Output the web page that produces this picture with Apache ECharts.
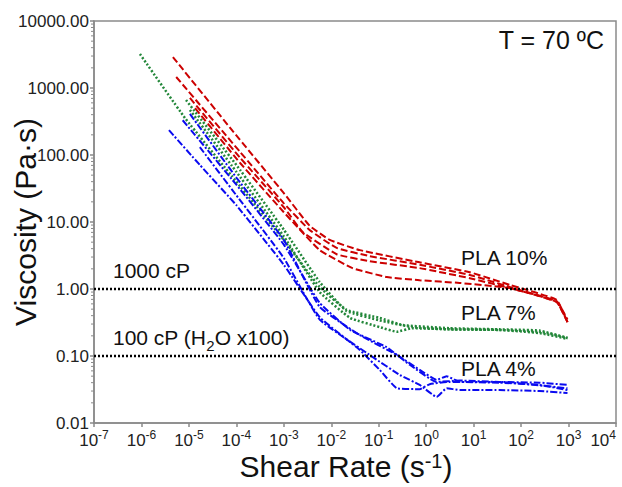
<!DOCTYPE html>
<html>
<head>
<meta charset="utf-8">
<script src="https://cdn.jsdelivr.net/npm/echarts@6/dist/echarts.min.js"></script>
<style>html,body{margin:0;padding:0;background:#fff}#c{width:622px;height:487px}</style>
</head>
<body>
<div id="c"></div>
<script>
// ---- data (shear rate [1/s], viscosity [Pa·s]) ----
const pla10_a = [[4.6e-6,2900],[8.5e-5,225],[1e-3,27],[3.5e-3,8.8],[9.3e-3,5.4],[4e-2,3.8],[0.73,2.5],[8.3,1.78],[58,1.15],[560,0.69],[950,0.32]];
const pla10_b = [[5.4e-6,1460],[1.2e-4,111],[1e-3,19],[3.5e-3,7.6],[1.3e-2,4.1],[6.4e-2,3.1],[0.73,2.3],[8.3,1.62],[58,1.07],[560,0.64],[950,0.32]];
const pla10_c = [[1.05e-5,710],[1.2e-4,91],[1e-3,16.6],[2.5e-3,7.1],[1.3e-2,3.3],[6.4e-2,2.6],[0.73,2.05],[8.3,1.45],[58,1.03],[560,0.66],[950,0.35]];
const pla10_d = [[1.35e-5,500],[1.2e-4,76],[1e-3,14],[5.7e-3,3.8],[2.8e-2,2.05],[0.148,1.51],[0.73,1.35],[5.1,1.23],[58,1.03],[560,0.64],[950,0.32]];

const pla7_a = [[9.3e-7,3210],[8.3e-6,355],[1e-4,40],[1e-3,5.4],[5.7e-3,1.07],[2.1e-2,0.49],[0.105,0.37],[0.32,0.29],[3.1,0.26],[35,0.25],[245,0.24],[950,0.186]];
const pla7_b = [[8.7e-6,660],[1e-4,71],[1e-3,7.7],[5.7e-3,1.27],[2.1e-2,0.47],[0.105,0.34],[0.5,0.27],[3.1,0.25],[35,0.245],[245,0.23],[950,0.186]];
const pla7_c = [[1.05e-5,470],[1e-4,56],[1e-3,6.1],[5.7e-3,0.9],[2.5e-2,0.37],[0.105,0.27],[0.24,0.23],[0.5,0.26],[3.1,0.25],[35,0.245],[245,0.22],[950,0.18]];

const pla4_a = [[3.8e-6,235],[1.7e-5,71],[1e-4,17.8],[1e-3,2.3],[5.7e-3,0.38],[4e-2,0.123],[0.105,0.062],[0.24,0.033],[0.73,0.032],[1.19,0.038],[3.1,0.041],[35,0.040],[245,0.037],[950,0.031]];
const pla4_b = [[7.4e-6,330],[1e-4,36],[1e-3,4.6],[5.7e-3,0.62],[2.5e-2,0.245],[0.148,0.135],[0.45,0.074],[1.66,0.041],[5.1,0.043],[35,0.041],[245,0.040],[950,0.037]];
const pla4_c = [[1.05e-5,410],[1e-4,46],[1e-3,5.4],[5.7e-3,0.54],[4e-2,0.205],[0.24,0.104],[0.73,0.062],[1.66,0.044],[2.7,0.05],[5.1,0.041],[35,0.041],[950,0.033]];
const pla4_d = [[1.7e-5,131],[1e-4,25],[1e-3,2.9],[5.7e-3,0.35],[7.4e-2,0.097],[0.28,0.052],[0.73,0.037],[1.66,0.0245],[2.7,0.033],[5.1,0.031],[35,0.031],[245,0.030],[950,0.028]];

const refLevels = [1, 0.1];           // 1000 cP and 100 cP lines
const xRange = [1e-7, 1e4];
const yRange = [0.01, 10000];
const yMinorTicks = [0.02,0.03,0.04,0.05,0.06,0.07,0.08,0.09, 0.2,0.3,0.4,0.5,0.6,0.7,0.8,0.9, 2,3,4,5,6,7,8,9,
                     20,30,40,50,60,70,80,90, 200,300,400,500,600,700,800,900, 2000,3000,4000,5000,6000,7000,8000,9000];

// ---- styling ----
const FONT = "Arial, 'Liberation Sans', sans-serif";
const RED = '#cc0000', GREEN = '#23873a', BLUE = '#0a0af0';
const AXIS = '#8a8a8a';

function mk(data, color, type, width) {
  return { type: 'line', data: data, showSymbol: false, smooth: 0.12,
    lineStyle: { color: color, width: width, type: type }, z: 3, silent: true };
}
const series = [
  mk(pla10_a, RED, [7, 3], 2), mk(pla10_b, RED, [7, 3], 2), mk(pla10_c, RED, [7, 3], 2), mk(pla10_d, RED, [7, 3], 2),
  mk(pla7_a, GREEN, [2, 2], 2.5), mk(pla7_b, GREEN, [2, 2], 2.5), mk(pla7_c, GREEN, [2, 2], 2.5),
  mk(pla4_a, BLUE, [7, 2, 2, 2], 2), mk(pla4_b, BLUE, [7, 2, 2, 2], 2), mk(pla4_c, BLUE, [7, 2, 2, 2], 2), mk(pla4_d, BLUE, [7, 2, 2, 2], 2)
];
refLevels.forEach(function (lv) {
  series.push({ type: 'line', data: [[xRange[0], lv], [xRange[1], lv]], showSymbol: false, silent: true,
    lineStyle: { color: '#000', width: 2.5, type: [2, 2] }, z: 4 });
});
// y-axis minor ticks at 2..9 x 10^n, drawn through the axis scale
series.push({
  type: 'custom', silent: true, clip: false, z: 5,
  data: yMinorTicks.map(function (v) { return [xRange[0], v]; }),
  renderItem: function (params, api) {
    const p = api.coord([api.value(0), api.value(1)]);
    return { type: 'line', shape: { x1: p[0] - 3, y1: p[1], x2: p[0], y2: p[1] },
      style: { stroke: AXIS, lineWidth: 1 } };
  }
});

const chart = echarts.init(document.getElementById('c'), null, { renderer: 'svg' });
chart.setOption({
  animation: false,
  backgroundColor: '#fff',
  grid: { left: 94, top: 21, right: 6, bottom: 64, containLabel: false, outerBoundsMode: 'none',
    show: true, borderColor: AXIS, borderWidth: 1.5, backgroundColor: 'transparent' },
  xAxis: {
    type: 'log', logBase: 10, min: xRange[0], max: xRange[1], interval: 1, splitNumber: 11,
    axisLine: { show: true, onZero: false, lineStyle: { color: AXIS, width: 1.5 } },
    axisTick: { show: true, inside: false, length: 4, lineStyle: { color: AXIS, width: 1.5 } },
    splitLine: { show: false },
    axisLabel: {
      margin: 6, color: '#222', hideOverlap: false, alignMaxLabel: 'right',
      formatter: function (v) { return '{b|10}{s|' + Math.round(Math.log10(v)) + '}'; },
      rich: {
        b: { fontSize: 17, fontFamily: FONT, color: '#222', lineHeight: 20, verticalAlign: 'bottom' },
        s: { fontSize: 12, fontFamily: FONT, color: '#222', lineHeight: 20, verticalAlign: 'top' }
      }
    },
    name: '{a|Shear Rate (s}{s|-1}{a|)}', nameLocation: 'middle', nameGap: 28, nameMoveOverlap: false,
    nameTextStyle: {
      padding: [0, 18, 0, 0],
      rich: {
        a: { fontSize: 30, fontFamily: FONT, color: '#111', lineHeight: 30, verticalAlign: 'bottom' },
        s: { fontSize: 20, fontFamily: FONT, color: '#111', lineHeight: 30, verticalAlign: 'top' }
      }
    }
  },
  yAxis: {
    type: 'log', logBase: 10, min: yRange[0], max: yRange[1], interval: 1, splitNumber: 6,
    axisLine: { show: true, onZero: false, lineStyle: { color: AXIS, width: 1.5 } },
    axisTick: { show: true, inside: false, length: 4, lineStyle: { color: AXIS, width: 1.5 } },
    splitLine: { show: false },
    axisLabel: { margin: 5, fontSize: 17, fontFamily: FONT, color: '#222',
      formatter: function (v) { return Number(v).toFixed(2); } },
    name: 'Viscosity (Pa·s)', nameLocation: 'middle', nameGap: 54, nameMoveOverlap: false,
    nameTextStyle: { fontSize: 30, fontFamily: FONT, color: '#111', lineHeight: 30 }
  },
  graphic: [
    { type: 'text', x: 604, y: 40, style: { text: 'T = 70 ºC', font: '25px ' + FONT, fill: '#111', align: 'right', verticalAlign: 'middle' } },
    { type: 'text', x: 113, y: 270, style: { text: '1000 cP', font: '21px ' + FONT, fill: '#111', align: 'left', verticalAlign: 'middle' } },
    { type: 'text', x: 113, y: 340, style: { text: '{a|100 cP (H}{s|2}{a|O x100)}', align: 'left', verticalAlign: 'middle',
        rich: { a: { fontSize: 21, fontFamily: FONT, fill: '#111', lineHeight: 26, verticalAlign: 'top' },
                s: { fontSize: 15, fontFamily: FONT, fill: '#111', lineHeight: 26, verticalAlign: 'bottom' } } } },
    { type: 'text', x: 461, y: 257, style: { text: 'PLA 10%', font: '21px ' + FONT, fill: '#111', align: 'left', verticalAlign: 'middle' } },
    { type: 'text', x: 461, y: 312, style: { text: 'PLA 7%', font: '21px ' + FONT, fill: '#111', align: 'left', verticalAlign: 'middle' } },
    { type: 'text', x: 461, y: 368, style: { text: 'PLA 4%', font: '21px ' + FONT, fill: '#111', align: 'left', verticalAlign: 'middle' } }
  ],
  series: series
});
</script>
</body>
</html>
